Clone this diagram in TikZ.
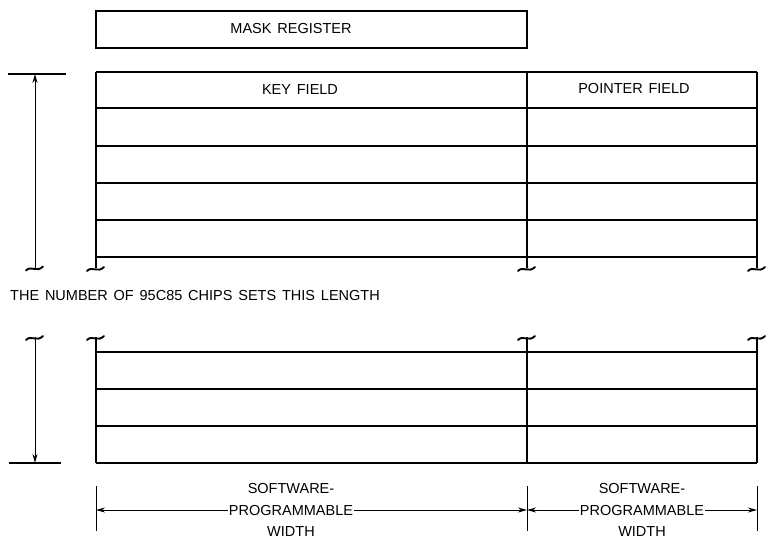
\documentclass[tikz,border=0pt]{standalone}
\usepackage{fontspec}
\setmainfont[WordSpace=1.45]{Liberation Sans}
\usetikzlibrary{arrows.meta}

\begin{document}
\begin{tikzpicture}[
    x=1pt, y=-1pt,
    rule/.style={line width=1.4pt, black},
    dim/.style={line width=1pt, black},
    dimarrow/.style={dim, -{Stealth[length=9pt, width=5pt]}},
    label/.style={font=\fontsize{14.5}{17}\selectfont, align=center, inner sep=1pt},
    widthlabel/.style={font=\fontsize{14.5}{21.5}\selectfont, align=center, inner sep=1pt},
    regbox/.style={rectangle, draw, line width=1.1pt, minimum width=431pt, minimum height=37pt},
    brk/.pic={\draw[line width=1.9pt, line cap=round] (-9,2.5) .. controls (-4,-3) and (2,5) .. (8,-1.5);}
]
\useasboundingbox (0,0) rectangle (773,540);

% Mask register
\node[regbox] (mask) at (311.5,29.5) {};
\node[label] (masktxt) at (291,29) {MASK REGISTER};

% Upper table
\foreach \y in {72,108,146,183,220,257}
  \draw[rule] (96,\y) -- (757,\y);
\foreach \x in {96,527,757} {
  \draw[rule] (\x,72) -- (\x,268);
  \pic at (\x,268.5) {brk};
}
\node[label] (key) at (300,90) {KEY FIELD};
\node[label] (ptr) at (634,89) {POINTER FIELD};

% Length of upper table
\coordinate (ltop) at (35,74);
\coordinate (lbot) at (35,268);
\draw[rule] (8,74) -- (66,74);
\draw[dimarrow] (lbot) -- (ltop);
\pic at (lbot) {brk};

\node[label, anchor=west] (chips) at (9,296) {THE NUMBER OF 95C85 CHIPS SETS THIS LENGTH};

% Lower table
\foreach \y in {352,389,426,463}
  \draw[rule] (96,\y) -- (757,\y);
\foreach \x in {96,527,757} {
  \draw[rule] (\x,337) -- (\x,463);
  \pic at (\x,337.5) {brk};
}

% Length of lower table
\coordinate (mtop) at (35,337);
\coordinate (mbot) at (35,463);
\draw[rule] (9,463) -- (61,463);
\draw[dimarrow] (mtop) -- (mbot);
\pic at (35,337.5) {brk};

% Widths
\foreach \x in {96,527,757}
  \draw[dim] (\x,486) -- (\x,531);
\node[widthlabel] (wkey) at (291,510) {SOFTWARE-\\PROGRAMMABLE\\WIDTH};
\node[widthlabel] (wptr) at (642,510) {SOFTWARE-\\PROGRAMMABLE\\WIDTH};
\coordinate (w1) at (96,510);
\coordinate (w2) at (527,510);
\coordinate (w3) at (757,510);
\draw[dimarrow] (wkey.west |- w1) -- (w1);
\draw[dimarrow] (wkey.east |- w2) -- (w2);
\draw[dimarrow] (wptr.west |- w2) -- (w2);
\draw[dimarrow] (wptr.east |- w3) -- (w3);

\end{tikzpicture}
\end{document}
